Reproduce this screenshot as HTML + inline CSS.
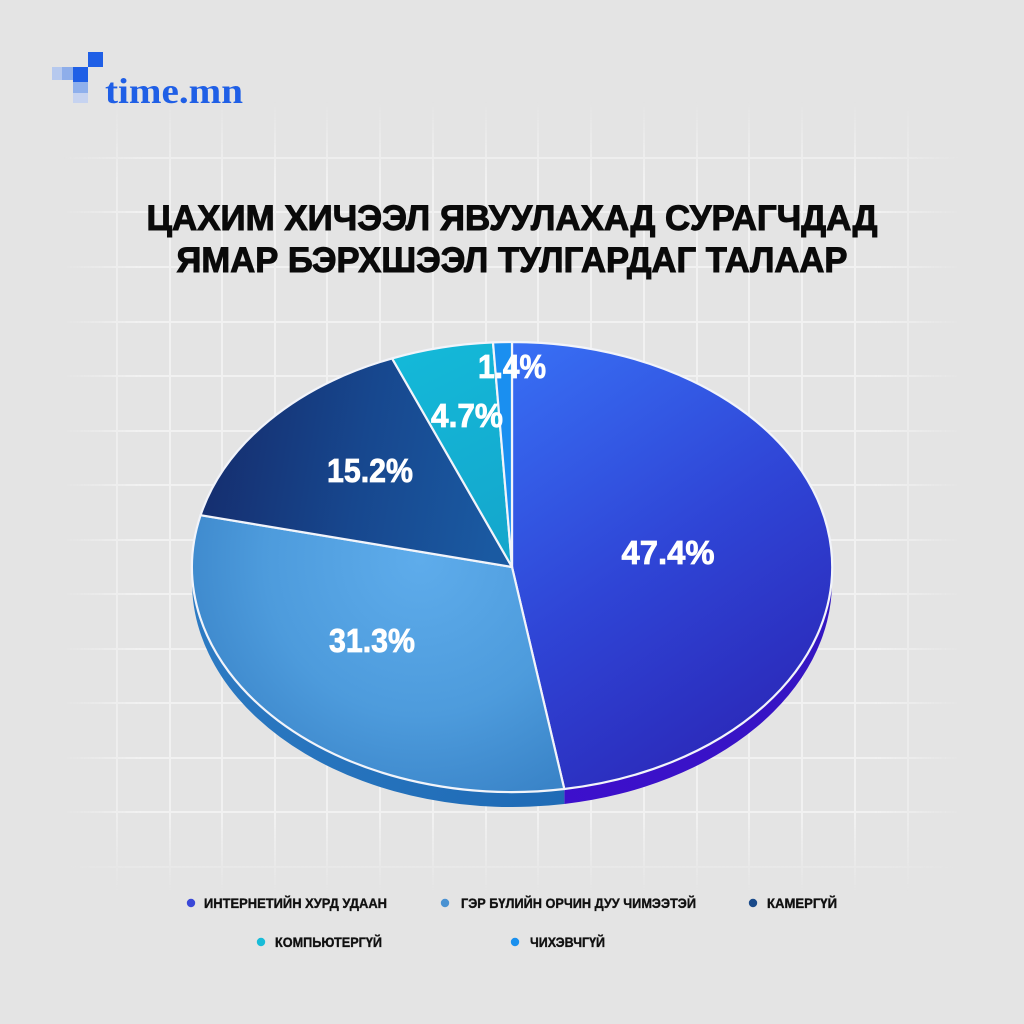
<!DOCTYPE html>
<html>
<head>
<meta charset="utf-8">
<style>
  html,body{margin:0;padding:0;background:#e4e4e4;}
  svg{display:block;}
  text{font-family:"Liberation Sans","DejaVu Sans",sans-serif;}
</style>
</head>
<body>
<svg width="1024" height="1024" viewBox="0 0 1024 1024" xmlns="http://www.w3.org/2000/svg">
  <defs>
    <linearGradient id="fx" x1="60" y1="0" x2="965" y2="0" gradientUnits="userSpaceOnUse">
      <stop offset="0" stop-color="#000"/>
      <stop offset="0.09" stop-color="#fff"/>
      <stop offset="0.9" stop-color="#fff"/>
      <stop offset="1" stop-color="#000"/>
    </linearGradient>
    <linearGradient id="fy" x1="0" y1="100" x2="0" y2="895" gradientUnits="userSpaceOnUse">
      <stop offset="0" stop-color="#000"/>
      <stop offset="0.1" stop-color="#fff"/>
      <stop offset="0.9" stop-color="#fff"/>
      <stop offset="1" stop-color="#000"/>
    </linearGradient>
    <mask id="mx" maskUnits="userSpaceOnUse" x="0" y="0" width="1024" height="1024">
      <rect x="0" y="0" width="1024" height="1024" fill="url(#fx)"/>
    </mask>
    <mask id="my" maskUnits="userSpaceOnUse" x="0" y="0" width="1024" height="1024">
      <rect x="0" y="0" width="1024" height="1024" fill="url(#fy)"/>
    </mask>

    <linearGradient id="gBlue" x1="520" y1="345" x2="800" y2="760" gradientUnits="userSpaceOnUse">
      <stop offset="0" stop-color="#386ff4"/>
      <stop offset="0.5" stop-color="#2f45d6"/>
      <stop offset="1" stop-color="#2a24b4"/>
    </linearGradient>
    <radialGradient id="gLight" cx="420" cy="560" r="260" gradientUnits="userSpaceOnUse">
      <stop offset="0" stop-color="#5eaceb"/>
      <stop offset="0.6" stop-color="#4d9bdc"/>
      <stop offset="1" stop-color="#3a84c8"/>
    </radialGradient>
    <linearGradient id="gNavy" x1="500" y1="520" x2="210" y2="470" gradientUnits="userSpaceOnUse">
      <stop offset="0" stop-color="#1a5aa2"/>
      <stop offset="0.5" stop-color="#17478e"/>
      <stop offset="1" stop-color="#152f70"/>
    </linearGradient>
    <linearGradient id="gCyan" x1="400" y1="360" x2="500" y2="560" gradientUnits="userSpaceOnUse">
      <stop offset="0" stop-color="#14b8d8"/>
      <stop offset="1" stop-color="#14a6cc"/>
    </linearGradient>
    <linearGradient id="gSideBlue" x1="832" y1="570" x2="564" y2="800" gradientUnits="userSpaceOnUse">
      <stop offset="0" stop-color="#3318c0"/>
      <stop offset="1" stop-color="#3d0fcc"/>
    </linearGradient>
    <linearGradient id="gSideLight" x1="192" y1="570" x2="564" y2="800" gradientUnits="userSpaceOnUse">
      <stop offset="0" stop-color="#2e7cc4"/>
      <stop offset="1" stop-color="#1f6bb6"/>
    </linearGradient>
  </defs>

  <!-- background -->
  <rect x="0" y="0" width="1024" height="1024" fill="#e4e4e4"/>

  <!-- grid -->
  <g mask="url(#my)">
    <g mask="url(#mx)" stroke="#f4f4f4" stroke-width="2" opacity="0.85">
      <line x1="117" y1="100" x2="117" y2="895"/>
      <line x1="170" y1="100" x2="170" y2="895"/>
      <line x1="222" y1="100" x2="222" y2="895"/>
      <line x1="275" y1="100" x2="275" y2="895"/>
      <line x1="327" y1="100" x2="327" y2="895"/>
      <line x1="380" y1="100" x2="380" y2="895"/>
      <line x1="433" y1="100" x2="433" y2="895"/>
      <line x1="486" y1="100" x2="486" y2="895"/>
      <line x1="538" y1="100" x2="538" y2="895"/>
      <line x1="591" y1="100" x2="591" y2="895"/>
      <line x1="644" y1="100" x2="644" y2="895"/>
      <line x1="697" y1="100" x2="697" y2="895"/>
      <line x1="749" y1="100" x2="749" y2="895"/>
      <line x1="802" y1="100" x2="802" y2="895"/>
      <line x1="855" y1="100" x2="855" y2="895"/>
      <line x1="908" y1="100" x2="908" y2="895"/>

      <line x1="60" y1="158" x2="965" y2="158"/>
      <line x1="60" y1="212" x2="965" y2="212"/>
      <line x1="60" y1="267" x2="965" y2="267"/>
      <line x1="60" y1="322" x2="965" y2="322"/>
      <line x1="60" y1="376" x2="965" y2="376"/>
      <line x1="60" y1="431" x2="965" y2="431"/>
      <line x1="60" y1="485" x2="965" y2="485"/>
      <line x1="60" y1="540" x2="965" y2="540"/>
      <line x1="60" y1="594" x2="965" y2="594"/>
      <line x1="60" y1="649" x2="965" y2="649"/>
      <line x1="60" y1="703" x2="965" y2="703"/>
      <line x1="60" y1="758" x2="965" y2="758"/>
      <line x1="60" y1="812" x2="965" y2="812"/>
      <line x1="60" y1="867" x2="965" y2="867"/>
    </g>
  </g>

  <!-- logo -->
  <rect x="88" y="52" width="15" height="15" fill="#1f5fe6"/>
  <rect x="52" y="67" width="11" height="13" fill="#b6c9ee"/>
  <rect x="62" y="67" width="11" height="13" fill="#8eaeea"/>
  <rect x="73" y="67" width="15" height="15" fill="#1f5fe6"/>
  <rect x="73" y="82" width="15" height="11" fill="#8fb0ec"/>
  <rect x="73" y="93" width="15" height="10" fill="#c6d3f0"/>
  <text x="105" y="103" font-weight="bold" font-size="36" fill="#1f5fe6" textLength="138" lengthAdjust="spacingAndGlyphs" style="font-family:'Liberation Serif',serif">time.mn</text>

  <!-- title -->
  <g font-weight="bold" font-size="35" fill="#0a0a0a" stroke="#0a0a0a" stroke-width="1" text-anchor="middle">
    <text x="512" y="230" textLength="731" lengthAdjust="spacingAndGlyphs">ЦАХИМ ХИЧЭЭЛ ЯВУУЛАХАД СУРАГЧДАД</text>
    <text x="512" y="272" textLength="671" lengthAdjust="spacingAndGlyphs">ЯМАР БЭРХШЭЭЛ ТУЛГАРДАГ ТАЛААР</text>
  </g>

  <!-- pie sides -->
  <path d="M832,567 A320,225 0 0 1 564.3,789 L564.3,804 A320,225 0 0 0 832,582 Z" fill="url(#gSideBlue)"/>
  <path d="M564.3,789 A320,225 0 0 1 192,567 L192,582 A320,225 0 0 0 564.3,804 Z" fill="url(#gSideLight)"/>

  <!-- pie top -->
  <g stroke="#f2f4fa" stroke-width="2.2" stroke-linejoin="round">
    <path d="M512,567 L512,342 A320,225 0 0 1 564.3,789 Z" fill="url(#gBlue)"/>
    <path d="M512,567 L564.3,789 A320,225 0 0 1 200.6,515.2 Z" fill="url(#gLight)"/>
    <path d="M512,567 L200.6,515.2 A320,225 0 0 1 392.1,358.4 Z" fill="url(#gNavy)"/>
    <path d="M512,567 L392.1,358.4 A320,225 0 0 1 493,342.4 Z" fill="url(#gCyan)"/>
    <path d="M512,567 L493,342.4 A320,225 0 0 1 512,342 Z" fill="#1a8ff0"/>
  </g>

  <!-- labels -->
  <g font-weight="bold" font-size="33" fill="#ffffff" stroke="#ffffff" stroke-width="0.8" text-anchor="middle">
    <text x="668" y="564" textLength="93" lengthAdjust="spacingAndGlyphs">47.4%</text>
    <text x="372" y="652" textLength="86" lengthAdjust="spacingAndGlyphs">31.3%</text>
    <text x="370" y="482" textLength="86" lengthAdjust="spacingAndGlyphs">15.2%</text>
    <text x="467" y="427" textLength="72" lengthAdjust="spacingAndGlyphs">4.7%</text>
    <text x="512" y="378" textLength="68" lengthAdjust="spacingAndGlyphs">1.4%</text>
  </g>

  <!-- legend -->
  <circle cx="191" cy="903" r="4.2" fill="#3a48d8"/>
  <circle cx="445" cy="903" r="4.2" fill="#4a92d2"/>
  <circle cx="753" cy="903" r="4.2" fill="#1a4a8a"/>
  <circle cx="261" cy="942" r="4.2" fill="#18bcd8"/>
  <circle cx="515" cy="942" r="4.2" fill="#1a90ee"/>
  <g font-weight="bold" font-size="13.5" fill="#111111" stroke="#111111" stroke-width="0.35">
    <text x="204" y="908" textLength="183" lengthAdjust="spacingAndGlyphs">ИНТЕРНЕТИЙН ХУРД УДААН</text>
    <text x="461" y="908" textLength="235" lengthAdjust="spacingAndGlyphs">ГЭР БҮЛИЙН ОРЧИН ДУУ ЧИМЭЭТЭЙ</text>
    <text x="767" y="908" textLength="70" lengthAdjust="spacingAndGlyphs">КАМЕРГҮЙ</text>
    <text x="275" y="947" textLength="107" lengthAdjust="spacingAndGlyphs">КОМПЬЮТЕРГҮЙ</text>
    <text x="530" y="947" textLength="75" lengthAdjust="spacingAndGlyphs">ЧИХЭВЧГҮЙ</text>
  </g>
</svg>
</body>
</html>
